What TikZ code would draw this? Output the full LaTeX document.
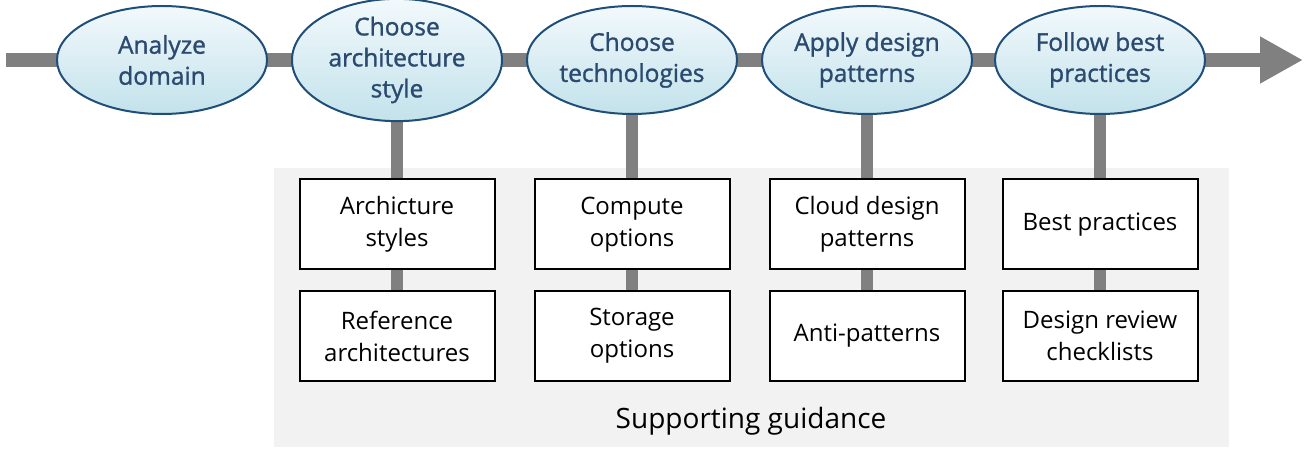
\documentclass[tikz,border=0pt]{standalone}
\usepackage{fontspec}
\setmainfont{Open Sans}
\newfontfamily\stagefont{Open Sans}[FakeBold=1.2]
\usetikzlibrary{shapes.geometric,arrows.meta,backgrounds}
\definecolor{axisgray}{HTML}{808080}
\definecolor{panelgray}{HTML}{F2F2F2}
\definecolor{ellborder}{HTML}{1F4E79}
\definecolor{elltext}{HTML}{2B4A6F}
\definecolor{elltop}{HTML}{F2F9FC}
\definecolor{ellbot}{HTML}{C3E2EB}
\begin{document}
\begin{tikzpicture}[x=1pt,y=-1pt,
  stage/.style={ellipse, draw=ellborder, line width=2pt, top color=elltop, bottom color=ellbot,
    minimum width=210pt, minimum height=108pt, inner sep=0pt, align=center, text=elltext,
    font=\fontsize{24.5}{31}\selectfont\stagefont},
  guide/.style={rectangle, draw=black, line width=2pt, fill=white, minimum width=195pt,
    minimum height=90pt, inner sep=0pt, align=center, font=\fontsize{24}{32}\selectfont},
  conn/.style={draw=axisgray, line width=12pt},
  axis/.style={draw=axisgray, line width=14pt, -{Triangle[length=43pt,width=44pt]}},
]
\useasboundingbox (0,0) rectangle (1307,454);
\node[minimum width=955pt, minimum height=279pt, inner sep=0pt, anchor=north west] (panel) at (274,168) {};
\coordinate (axstart) at (6,60);
\coordinate (axend) at (1303,60);
\draw[axis] (axstart) -- (axend);

\node[stage] (e1) at (162,60) {Analyze\\domain};
\node[stage] (e2) at (397,60) {Choose\\architecture\\style};
\node[stage] (e3) at (632,60) {Choose\\technologies};
\node[stage] (e4) at (867,60) {Apply design\\patterns};
\node[stage] (e5) at (1100,60) {Follow best\\practices};

\node[guide] (b1a) at (397,224.5) {Archicture\\styles};
\node[guide] (b1b) at (397,336) {Reference\\architectures};
\node[guide] (b2a) at (632,224.5) {Compute\\options};
\node[guide] (b2b) at (632,336) {Storage\\options};
\node[guide] (b3a) at (867,224.5) {Cloud design\\patterns};
\node[guide] (b3b) at (867,336) {Anti-patterns};
\node[guide] (b4a) at (1100,224.5) {Best practices};
\node[guide] (b4b) at (1100,336) {Design review\\checklists};

\node[font=\fontsize{28}{34}\selectfont] (sg) at (751,421) {Supporting guidance};

\begin{pgfonlayer}{background}
\fill[panelgray] (panel.north west) rectangle (panel.south east);
\foreach \c in {1,2,3,4}{
  \pgfmathtruncatemacro{\e}{\c+1}
  \draw[conn] (e\e.south) -- (b\c a.north);
  \draw[conn] (b\c a.south) -- (b\c b.north);
}
\end{pgfonlayer}
\end{tikzpicture}
\end{document}
